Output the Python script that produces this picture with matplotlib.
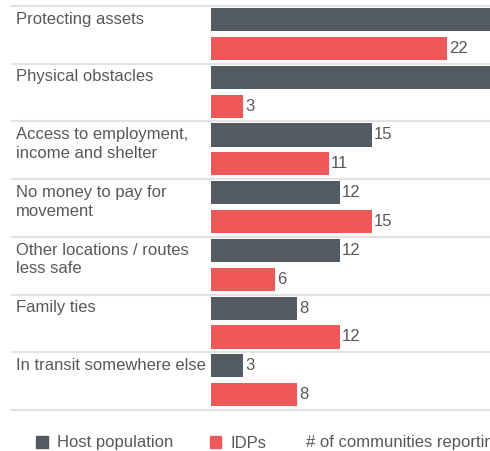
import matplotlib
matplotlib.use("Agg")
import matplotlib.pyplot as plt
from matplotlib.patches import Patch

plt.rcParams['font.family'] = ['Liberation Sans', 'DejaVu Sans']

categories = ["Protecting assets", "Physical obstacles",
              "Access to employment,\nincome and shelter",
              "No money to pay for\nmovement",
              "Other locations / routes\nless safe",
              "Family ties", "In transit somewhere else"]
host = [28, 27, 15, 12, 12, 8, 3]   # first two run off the chart edge
idps = [22, 3, 11, 15, 6, 12, 8]

HOST_C = '#545a61'
IDP_C = '#ee5859'
TXT_C = '#58585a'
GRID_C = '#e2e2e2'
FS = 12

W, H = 490, 451
fig = plt.figure(figsize=(W/100, H/100), dpi=100)
ax = fig.add_axes([211/W, 1 - 410/H, 1 - 211/W, 404/H])

n = len(categories)
ypos = list(range(n))
ax.barh([y + 0.235 for y in ypos], host, height=0.4, color=HOST_C)
ax.barh([y + 0.735 for y in ypos], idps, height=0.4, color=IDP_C)
xmax = (W - 212) / 10.67
ax.set_xlim(0, xmax)
ax.set_ylim(n, 0)
ax.axis('off')

xl = (12 - 211) / (W - 211)
for i in range(n + 1):
    ax.axhline(i, xmin=xl, xmax=1, color=GRID_C, lw=1.5, clip_on=False)

tr = ax.get_yaxis_transform()
xt = (16 - 211) / (W - 211)
for i, c in enumerate(categories):
    ax.text(xt, i + 0.1, c, transform=tr, ha='left', va='top',
            fontsize=FS, color=TXT_C, linespacing=1.3)
    for v, off in ((host[i], 0.235), (idps[i], 0.735)):
        if v < xmax - 1:   # labels of bars that run off the edge are not shown
            ax.text(v + 0.2, i + off, str(v), ha='left', va='center',
                    fontsize=FS, color=TXT_C)

handles = [Patch(color=HOST_C, label='Host population'),
           Patch(color=IDP_C, label='IDPs')]
fig.legend(handles=handles, loc='center left', bbox_to_anchor=(36/W, 1 - 443/H),
           ncol=2, frameon=False, fontsize=FS, handlelength=0.7, handleheight=0.7,
           handletextpad=0.55, columnspacing=2.2, borderpad=0, borderaxespad=0,
           labelcolor=TXT_C)
fig.text(306/W, 1 - 443/H, '# of communities reporting', ha='left', va='center',
         fontsize=FS, color=TXT_C)

fig.savefig('out.png', dpi=100)
